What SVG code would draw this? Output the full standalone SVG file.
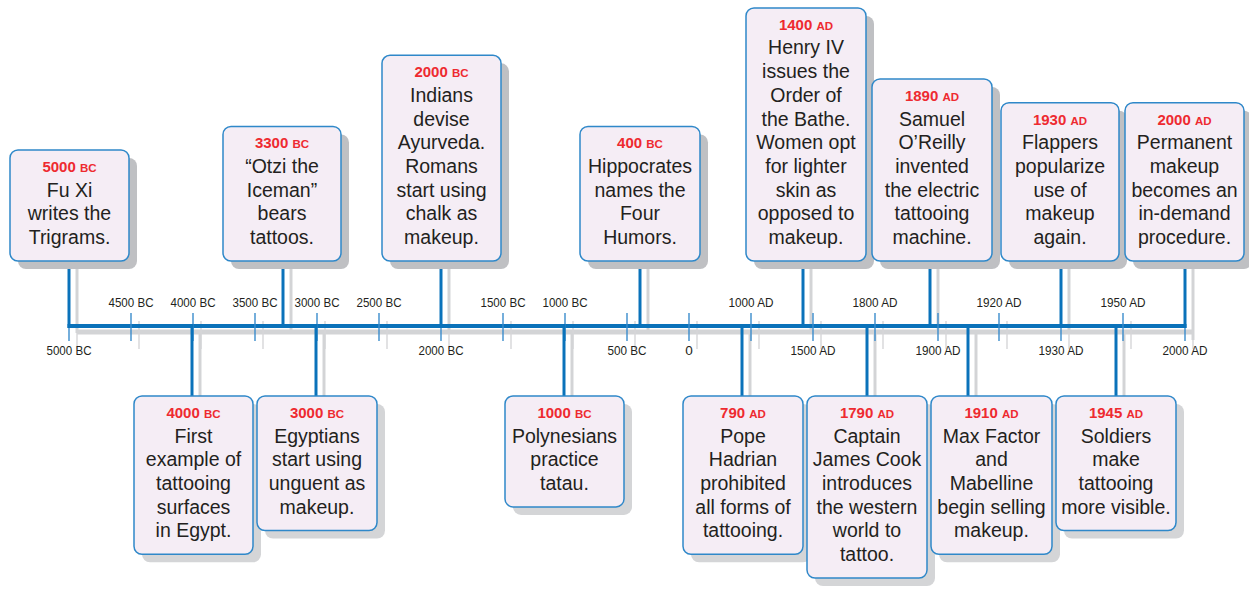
<svg xmlns="http://www.w3.org/2000/svg" width="1249" height="590" viewBox="0 0 1249 590">
<style>
.bg{fill:#ffffff}
.sh{stroke:#d3d4d6;fill:none}
.ax{stroke:#0a72ba;fill:none}
.con{stroke:#0a72ba;stroke-width:3;fill:none}
.consh{stroke:#d3d4d6;stroke-width:3;fill:none}
.tk{stroke:#3a8ccc;stroke-width:1.4}
.tksh{stroke:#d6d6d8;stroke-width:1.4}
.tl{font-family:"Liberation Sans",Arial,sans-serif;font-size:13.5px;fill:#231f20;text-anchor:middle}
.box{fill:#f5edf5;stroke:#2f88c9;stroke-width:1.5}
.bsh{fill:#bfc0c3}
.bsh2{fill:#d4d5d7}
.yr{font-family:"Liberation Sans",Arial,sans-serif;font-size:15px;font-weight:bold;fill:#ee2a30;text-anchor:middle}
.sc{font-size:11.5px}
.bd{font-family:"Liberation Sans",Arial,sans-serif;font-size:19.5px;fill:#231f20;text-anchor:middle}
</style>
<rect class="bg" x="0" y="0" width="1249" height="590"/>

<g id="axis">
  <line class="sh" x1="77" y1="332" x2="1194" y2="332" stroke-width="5"/>
  <g class="tksh">
    <line x1="77" y1="321" x2="77" y2="349"/><line x1="139" y1="321" x2="139" y2="349"/><line x1="201" y1="321" x2="201" y2="349"/><line x1="263" y1="321" x2="263" y2="349"/><line x1="325" y1="321" x2="325" y2="349"/><line x1="387" y1="321" x2="387" y2="349"/><line x1="449" y1="321" x2="449" y2="349"/><line x1="511" y1="321" x2="511" y2="349"/><line x1="573" y1="321" x2="573" y2="349"/><line x1="635" y1="321" x2="635" y2="349"/><line x1="697" y1="321" x2="697" y2="349"/><line x1="759" y1="321" x2="759" y2="349"/><line x1="821" y1="321" x2="821" y2="349"/><line x1="883" y1="321" x2="883" y2="349"/><line x1="946" y1="321" x2="946" y2="349"/><line x1="1007" y1="321" x2="1007" y2="349"/><line x1="1069" y1="321" x2="1069" y2="349"/><line x1="1131" y1="321" x2="1131" y2="349"/><line x1="1193" y1="321" x2="1193" y2="349"/>
  </g>
</g>

<g id="connectors">
  <g class="consh">
    <line x1="77" y1="268" x2="77" y2="333"/>
    <line x1="291" y1="268" x2="291" y2="333"/>
    <line x1="449" y1="268" x2="449" y2="333"/>
    <line x1="648" y1="268" x2="648" y2="333"/>
    <line x1="811" y1="268" x2="811" y2="333"/>
    <line x1="938" y1="268" x2="938" y2="333"/>
    <line x1="1069" y1="268" x2="1069" y2="333"/>
    <line x1="1193" y1="268" x2="1193" y2="340"/>
    <line x1="200" y1="333" x2="200" y2="400"/>
    <line x1="324" y1="333" x2="324" y2="400"/>
    <line x1="572" y1="333" x2="572" y2="400"/>
    <line x1="750" y1="333" x2="750" y2="400"/>
    <line x1="875" y1="333" x2="875" y2="400"/>
    <line x1="976" y1="333" x2="976" y2="400"/>
    <line x1="1124" y1="333" x2="1124" y2="400"/>
  </g>
  <line class="ax" x1="67.5" y1="326" x2="1186.5" y2="326" stroke-width="4"/>
  <g class="tk">
    <line x1="69" y1="313" x2="69" y2="341"/><line x1="131" y1="313" x2="131" y2="341"/><line x1="193" y1="313" x2="193" y2="341"/><line x1="255" y1="313" x2="255" y2="341"/><line x1="317" y1="313" x2="317" y2="341"/><line x1="379" y1="313" x2="379" y2="341"/><line x1="441" y1="313" x2="441" y2="341"/><line x1="503" y1="313" x2="503" y2="341"/><line x1="565" y1="313" x2="565" y2="341"/><line x1="627" y1="313" x2="627" y2="341"/><line x1="689" y1="313" x2="689" y2="341"/><line x1="751" y1="313" x2="751" y2="341"/><line x1="813" y1="313" x2="813" y2="341"/><line x1="875" y1="313" x2="875" y2="341"/><line x1="938" y1="313" x2="938" y2="341"/><line x1="999" y1="313" x2="999" y2="341"/><line x1="1061" y1="313" x2="1061" y2="341"/><line x1="1123" y1="313" x2="1123" y2="341"/><line x1="1185" y1="313" x2="1185" y2="341"/>
  </g>
  <g class="con">
    <line x1="69" y1="261" x2="69" y2="328"/>
    <line x1="283" y1="261" x2="283" y2="328"/>
    <line x1="441" y1="260" x2="441" y2="328"/>
    <line x1="640" y1="260" x2="640" y2="328"/>
    <line x1="803" y1="260" x2="803" y2="328"/>
    <line x1="930" y1="260" x2="930" y2="328"/>
    <line x1="1061" y1="260" x2="1061" y2="328"/>
    <line x1="1185" y1="260" x2="1185" y2="328"/>
    <line x1="192" y1="324" x2="192" y2="397"/>
    <line x1="316" y1="324" x2="316" y2="397"/>
    <line x1="564" y1="324" x2="564" y2="397"/>
    <line x1="742" y1="324" x2="742" y2="397"/>
    <line x1="867" y1="324" x2="867" y2="397"/>
    <line x1="968" y1="324" x2="968" y2="397"/>
    <line x1="1116" y1="324" x2="1116" y2="397"/>
  </g>
</g>

<g id="tick-labels">
  <text class="tl" x="131" y="307" textLength="45" lengthAdjust="spacingAndGlyphs">4500 BC</text>
  <text class="tl" x="193" y="307" textLength="45" lengthAdjust="spacingAndGlyphs">4000 BC</text>
  <text class="tl" x="255" y="307" textLength="45" lengthAdjust="spacingAndGlyphs">3500 BC</text>
  <text class="tl" x="317" y="307" textLength="45" lengthAdjust="spacingAndGlyphs">3000 BC</text>
  <text class="tl" x="379" y="307" textLength="45" lengthAdjust="spacingAndGlyphs">2500 BC</text>
  <text class="tl" x="503" y="307" textLength="45" lengthAdjust="spacingAndGlyphs">1500 BC</text>
  <text class="tl" x="565" y="307" textLength="45" lengthAdjust="spacingAndGlyphs">1000 BC</text>
  <text class="tl" x="751" y="307" textLength="45" lengthAdjust="spacingAndGlyphs">1000 AD</text>
  <text class="tl" x="875" y="307" textLength="45" lengthAdjust="spacingAndGlyphs">1800 AD</text>
  <text class="tl" x="999" y="307" textLength="45" lengthAdjust="spacingAndGlyphs">1920 AD</text>
  <text class="tl" x="1123" y="307" textLength="45" lengthAdjust="spacingAndGlyphs">1950 AD</text>
  <text class="tl" x="69" y="355" textLength="45" lengthAdjust="spacingAndGlyphs">5000 BC</text>
  <text class="tl" x="441" y="355" textLength="45" lengthAdjust="spacingAndGlyphs">2000 BC</text>
  <text class="tl" x="627" y="355" textLength="39" lengthAdjust="spacingAndGlyphs">500 BC</text>
  <text class="tl" x="689" y="355">0</text>
  <text class="tl" x="813" y="355" textLength="45" lengthAdjust="spacingAndGlyphs">1500 AD</text>
  <text class="tl" x="938" y="355" textLength="45" lengthAdjust="spacingAndGlyphs">1900 AD</text>
  <text class="tl" x="1061" y="355" textLength="45" lengthAdjust="spacingAndGlyphs">1930 AD</text>
  <text class="tl" x="1185" y="355" textLength="45" lengthAdjust="spacingAndGlyphs">2000 AD</text>
</g>

<g id="n5000bc">
  <rect class="bsh" x="18" y="158" width="119" height="111" rx="8"/>
  <rect class="box" x="10" y="150" width="119" height="111" rx="8"/>
  <text class="yr" x="69.5" y="172">5000 <tspan class="sc">BC</tspan></text>
  <text class="bd" x="69.5" y="196.5">Fu Xi</text>
  <text class="bd" x="69.5" y="220.2">writes the</text>
  <text class="bd" x="69.5" y="243.9">Trigrams.</text>
</g>
<g id="n3300bc">
  <rect class="bsh" x="231" y="134.4" width="118" height="134.6" rx="8"/>
  <rect class="box" x="223" y="126.4" width="118" height="134.6" rx="8"/>
  <text class="yr" x="282" y="148.4">3300 <tspan class="sc">BC</tspan></text>
  <text class="bd" x="282" y="172.9">“Otzi the</text>
  <text class="bd" x="282" y="196.6">Iceman”</text>
  <text class="bd" x="282" y="220.3">bears</text>
  <text class="bd" x="282" y="244">tattoos.</text>
</g>
<g id="n2000bc">
  <rect class="bsh" x="390" y="63.3" width="119" height="205.7" rx="8"/>
  <rect class="box" x="382" y="55.3" width="119" height="205.7" rx="8"/>
  <text class="yr" x="441.5" y="77.3">2000 <tspan class="sc">BC</tspan></text>
  <text class="bd" x="441.5" y="101.8">Indians</text>
  <text class="bd" x="441.5" y="125.5">devise</text>
  <text class="bd" x="441.5" y="149.2">Ayurveda.</text>
  <text class="bd" x="441.5" y="172.9">Romans</text>
  <text class="bd" x="441.5" y="196.6">start using</text>
  <text class="bd" x="441.5" y="220.3">chalk as</text>
  <text class="bd" x="441.5" y="244">makeup.</text>
</g>
<g id="n400bc">
  <rect class="bsh" x="588" y="134.4" width="120" height="134.6" rx="8"/>
  <rect class="box" x="580" y="126.4" width="120" height="134.6" rx="8"/>
  <text class="yr" x="640" y="148.4">400 <tspan class="sc">BC</tspan></text>
  <text class="bd" x="640" y="172.9">Hippocrates</text>
  <text class="bd" x="640" y="196.6">names the</text>
  <text class="bd" x="640" y="220.3">Four</text>
  <text class="bd" x="640" y="244">Humors.</text>
</g>
<g id="n1400ad">
  <rect class="bsh" x="754" y="15.9" width="120" height="253.1" rx="8"/>
  <rect class="box" x="746" y="7.9" width="120" height="253.1" rx="8"/>
  <text class="yr" x="806" y="29.9">1400 <tspan class="sc">AD</tspan></text>
  <text class="bd" x="806" y="54.4">Henry IV</text>
  <text class="bd" x="806" y="78.1">issues the</text>
  <text class="bd" x="806" y="101.8">Order of</text>
  <text class="bd" x="806" y="125.5">the Bathe.</text>
  <text class="bd" x="806" y="149.2">Women opt</text>
  <text class="bd" x="806" y="172.9">for lighter</text>
  <text class="bd" x="806" y="196.6">skin as</text>
  <text class="bd" x="806" y="220.3">opposed to</text>
  <text class="bd" x="806" y="244">makeup.</text>
</g>
<g id="n1890ad">
  <rect class="bsh" x="880" y="87" width="120" height="182" rx="8"/>
  <rect class="box" x="872" y="79" width="120" height="182" rx="8"/>
  <text class="yr" x="932" y="101">1890 <tspan class="sc">AD</tspan></text>
  <text class="bd" x="932" y="125.5">Samuel</text>
  <text class="bd" x="932" y="149.2">O’Reilly</text>
  <text class="bd" x="932" y="172.9">invented</text>
  <text class="bd" x="932" y="196.6">the electric</text>
  <text class="bd" x="932" y="220.3">tattooing</text>
  <text class="bd" x="932" y="244">machine.</text>
</g>
<g id="n1930ad">
  <rect class="bsh" x="1009" y="110.7" width="118" height="158.3" rx="8"/>
  <rect class="box" x="1001" y="102.7" width="118" height="158.3" rx="8"/>
  <text class="yr" x="1060" y="124.7">1930 <tspan class="sc">AD</tspan></text>
  <text class="bd" x="1060" y="149.2">Flappers</text>
  <text class="bd" x="1060" y="172.9">popularize</text>
  <text class="bd" x="1060" y="196.6">use of</text>
  <text class="bd" x="1060" y="220.3">makeup</text>
  <text class="bd" x="1060" y="244">again.</text>
</g>
<g id="n2000ad">
  <rect class="bsh" x="1133" y="110.7" width="119" height="158.3" rx="8"/>
  <rect class="box" x="1125" y="102.7" width="119" height="158.3" rx="8"/>
  <text class="yr" x="1184.5" y="124.7">2000 <tspan class="sc">AD</tspan></text>
  <text class="bd" x="1184.5" y="149.2">Permanent</text>
  <text class="bd" x="1184.5" y="172.9">makeup</text>
  <text class="bd" x="1184.5" y="196.6">becomes an</text>
  <text class="bd" x="1184.5" y="220.3">in-demand</text>
  <text class="bd" x="1184.5" y="244">procedure.</text>
</g>

<g id="n4000bc">
  <rect class="bsh2" x="142" y="404" width="119" height="158.3" rx="8"/>
  <rect class="box" x="134" y="396" width="119" height="158.3" rx="8"/>
  <text class="yr" x="193.5" y="418">4000 <tspan class="sc">BC</tspan></text>
  <text class="bd" x="193.5" y="442.5">First</text>
  <text class="bd" x="193.5" y="466.2">example of</text>
  <text class="bd" x="193.5" y="489.9">tattooing</text>
  <text class="bd" x="193.5" y="513.6">surfaces</text>
  <text class="bd" x="193.5" y="537.3">in Egypt.</text>
</g>
<g id="n3000bc">
  <rect class="bsh2" x="265" y="404" width="120" height="134.6" rx="8"/>
  <rect class="box" x="257" y="396" width="120" height="134.6" rx="8"/>
  <text class="yr" x="317" y="418">3000 <tspan class="sc">BC</tspan></text>
  <text class="bd" x="317" y="442.5">Egyptians</text>
  <text class="bd" x="317" y="466.2">start using</text>
  <text class="bd" x="317" y="489.9">unguent as</text>
  <text class="bd" x="317" y="513.6">makeup.</text>
</g>
<g id="n1000bc">
  <rect class="bsh2" x="513" y="404" width="119" height="110.9" rx="8"/>
  <rect class="box" x="505" y="396" width="119" height="110.9" rx="8"/>
  <text class="yr" x="564.5" y="418">1000 <tspan class="sc">BC</tspan></text>
  <text class="bd" x="564.5" y="442.5">Polynesians</text>
  <text class="bd" x="564.5" y="466.2">practice</text>
  <text class="bd" x="564.5" y="489.9">tatau.</text>
</g>
<g id="n790ad">
  <rect class="bsh2" x="691" y="404" width="120" height="158.3" rx="8"/>
  <rect class="box" x="683" y="396" width="120" height="158.3" rx="8"/>
  <text class="yr" x="743" y="418">790 <tspan class="sc">AD</tspan></text>
  <text class="bd" x="743" y="442.5">Pope</text>
  <text class="bd" x="743" y="466.2">Hadrian</text>
  <text class="bd" x="743" y="489.9">prohibited</text>
  <text class="bd" x="743" y="513.6">all forms of</text>
  <text class="bd" x="743" y="537.3">tattooing.</text>
</g>
<g id="n1790ad">
  <rect class="bsh2" x="815" y="404" width="120" height="182" rx="8"/>
  <rect class="box" x="807" y="396" width="120" height="182" rx="8"/>
  <text class="yr" x="867" y="418">1790 <tspan class="sc">AD</tspan></text>
  <text class="bd" x="867" y="442.5">Captain</text>
  <text class="bd" x="867" y="466.2">James Cook</text>
  <text class="bd" x="867" y="489.9">introduces</text>
  <text class="bd" x="867" y="513.6">the western</text>
  <text class="bd" x="867" y="537.3">world to</text>
  <text class="bd" x="867" y="561">tattoo.</text>
</g>
<g id="n1910ad">
  <rect class="bsh2" x="939" y="404" width="121" height="158.3" rx="8"/>
  <rect class="box" x="931" y="396" width="121" height="158.3" rx="8"/>
  <text class="yr" x="991.5" y="418">1910 <tspan class="sc">AD</tspan></text>
  <text class="bd" x="991.5" y="442.5">Max Factor</text>
  <text class="bd" x="991.5" y="466.2">and</text>
  <text class="bd" x="991.5" y="489.9">Mabelline</text>
  <text class="bd" x="991.5" y="513.6">begin selling</text>
  <text class="bd" x="991.5" y="537.3">makeup.</text>
</g>
<g id="n1945ad">
  <rect class="bsh2" x="1064" y="404" width="120" height="134.6" rx="8"/>
  <rect class="box" x="1056" y="396" width="120" height="134.6" rx="8"/>
  <text class="yr" x="1116" y="418">1945 <tspan class="sc">AD</tspan></text>
  <text class="bd" x="1116" y="442.5">Soldiers</text>
  <text class="bd" x="1116" y="466.2">make</text>
  <text class="bd" x="1116" y="489.9">tattooing</text>
  <text class="bd" x="1116" y="513.6">more visible.</text>
</g>
</svg>
